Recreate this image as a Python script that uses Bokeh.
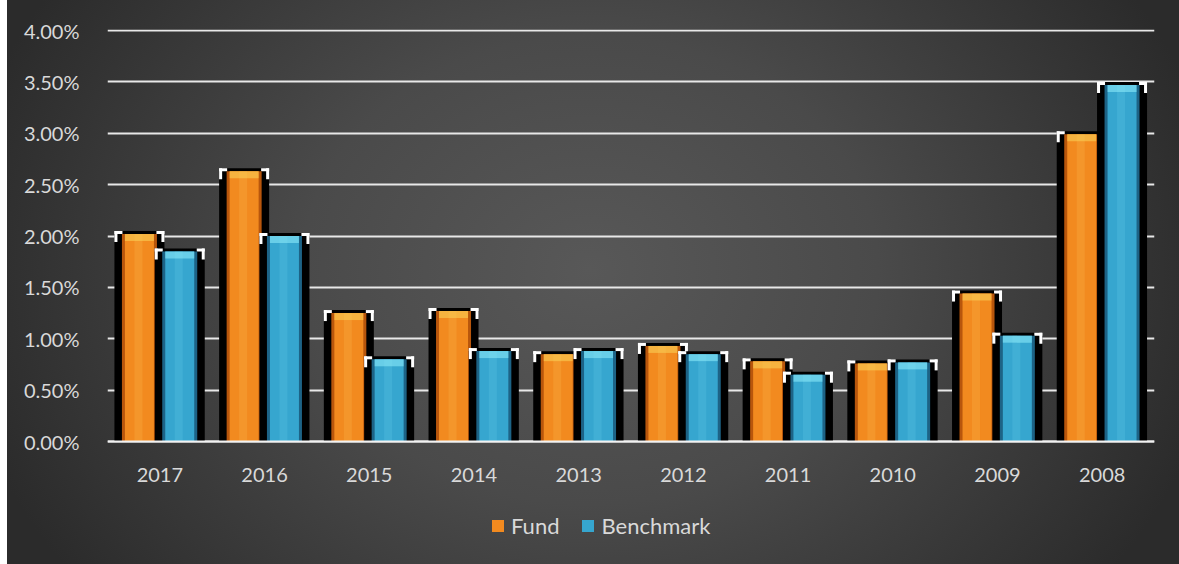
import numpy as np
from bokeh.plotting import figure
from bokeh.models import Range1d, FixedTicker, NumeralTickFormatter, Legend, LegendItem
from bokeh.embed import file_html
from bokeh.resources import INLINE

years = ["2017", "2016", "2015", "2014", "2013", "2012", "2011", "2010", "2009", "2008"]
fund = [0.0202, 0.0263, 0.0125, 0.0127, 0.0085, 0.0093, 0.0078, 0.0076, 0.0144, 0.0299]
benchmark = [0.0185, 0.0200, 0.0080, 0.0088, 0.0088, 0.0085, 0.0065, 0.0077, 0.0103, 0.0347]
y_ticks = [0.0, 0.005, 0.01, 0.015, 0.02, 0.025, 0.03, 0.035, 0.04]

W, H = 1179, 564
B_LEFT, B_RIGHT, B_TOP = 107, 25, 29
Y_TOP_PX, Y_ZERO_PX = 30, 441          # pixel rows of 4.00% and 0.00%
PX_Y = 0.04 / (Y_ZERO_PX - Y_TOP_PX)
Y_END = 0.04 + (Y_TOP_PX - B_TOP) * PX_Y
Y_START = -(H - Y_ZERO_PX) * PX_Y
PX_X = len(years) / (W - B_LEFT - B_RIGHT)
FONT = "Lato"
TXT = "#d9d9d9"

p = figure(width=W, height=H, x_range=Range1d(-0.5, len(years) - 0.5),
           y_range=Range1d(Y_START, Y_END), output_backend="svg", toolbar_location=None,
           min_border_left=B_LEFT, min_border_right=B_RIGHT,
           min_border_top=B_TOP, min_border_bottom=0)
p.background_fill_alpha = 0
p.border_fill_alpha = 0
p.outline_line_color = None
p.styles = {"background": "linear-gradient(#ffffff, #ffffff) 0 0 / 7px 100% no-repeat, "
                          "radial-gradient(ellipse 640px 520px at 590px 270px, #585858 0%, #4a4a4a 45%, #2b2b2b 100%)"}

p.xgrid.grid_line_color = None
p.ygrid.grid_line_color = "#e8e8e8"
p.ygrid.grid_line_width = 2

p.yaxis.ticker = FixedTicker(ticks=y_ticks)
p.yaxis.formatter = NumeralTickFormatter(format="0.00%")
p.xaxis.ticker = FixedTicker(ticks=list(range(len(years))))
p.xaxis.major_label_overrides = {i: y for i, y in enumerate(years)}
p.xaxis.fixed_location = 0
for ax in (p.xaxis[0], p.yaxis[0]):
    ax.major_tick_line_color = None
    ax.minor_tick_line_color = None
    ax.major_label_text_font = FONT
    ax.major_label_text_font_size = "20px"
    ax.major_label_text_color = TXT
p.yaxis.axis_line_color = None
p.yaxis.major_label_standoff = 22
p.xaxis.axis_line_color = "#f2f2f2"
p.xaxis.axis_line_width = 2
p.xaxis.major_label_standoff = 20


def draw(values, offset, edge, main, stripe, hl):
    x = np.arange(len(values)) + offset
    v = np.array(values)
    bw = 35 * PX_X / 2
    sw = 25 * PX_X
    # black shadow block
    p.quad(left=x - sw, right=x + sw, bottom=0, top=v + 3 * PX_Y,
           fill_color="black", line_color=None)
    # white corner brackets
    for side in (-1, 1):
        outer = x + side * sw
        p.quad(left=np.minimum(outer, outer - side * 8 * PX_X), right=np.maximum(outer, outer - side * 8 * PX_X),
               bottom=v, top=v + 3 * PX_Y, fill_color="white", line_color=None)
        p.quad(left=np.minimum(outer, outer - side * 3 * PX_X), right=np.maximum(outer, outer - side * 3 * PX_X),
               bottom=v - 8 * PX_Y, top=v + 3 * PX_Y, fill_color="white", line_color=None)
    # glossy bar
    p.quad(left=x - bw, right=x + bw, bottom=0, top=v, fill_color=edge, line_color=None)
    r = p.quad(left=x - bw + 3 * PX_X, right=x + bw - 3 * PX_X, bottom=0, top=v,
               fill_color=main, line_color="black", line_alpha=0)
    p.quad(left=x - 5 * PX_X, right=x + 3 * PX_X, bottom=0, top=v,
           fill_color=stripe, fill_alpha=0.3, line_color=None)
    p.quad(left=x - bw + 3 * PX_X, right=x + bw - 3 * PX_X, bottom=v - 7 * PX_Y, top=v,
           fill_color=hl, fill_alpha=0.6, line_color=None)
    return r


r_fund = draw(fund, -0.195, "#b8560c", "#f28a1f", "#f9b24a", "#f9cf55")
r_bench = draw(benchmark, 0.19, "#1d6386", "#36a6cf", "#5cc3e6", "#8ae9f8")

legend = Legend(items=[LegendItem(label="Fund", renderers=[r_fund]),
                       LegendItem(label="Benchmark", renderers=[r_bench])],
                orientation="horizontal", location=(383, 25))
legend.background_fill_alpha = 0
legend.border_line_alpha = 0
legend.label_text_font = FONT
legend.label_text_font_size = "22px"
legend.label_text_color = TXT
legend.glyph_width = 15
legend.glyph_height = 15
legend.label_standoff = 6
legend.spacing = 21
legend.padding = 0
legend.margin = 0
p.add_layout(legend)

open("out.html", "w").write(file_html(p, INLINE))
